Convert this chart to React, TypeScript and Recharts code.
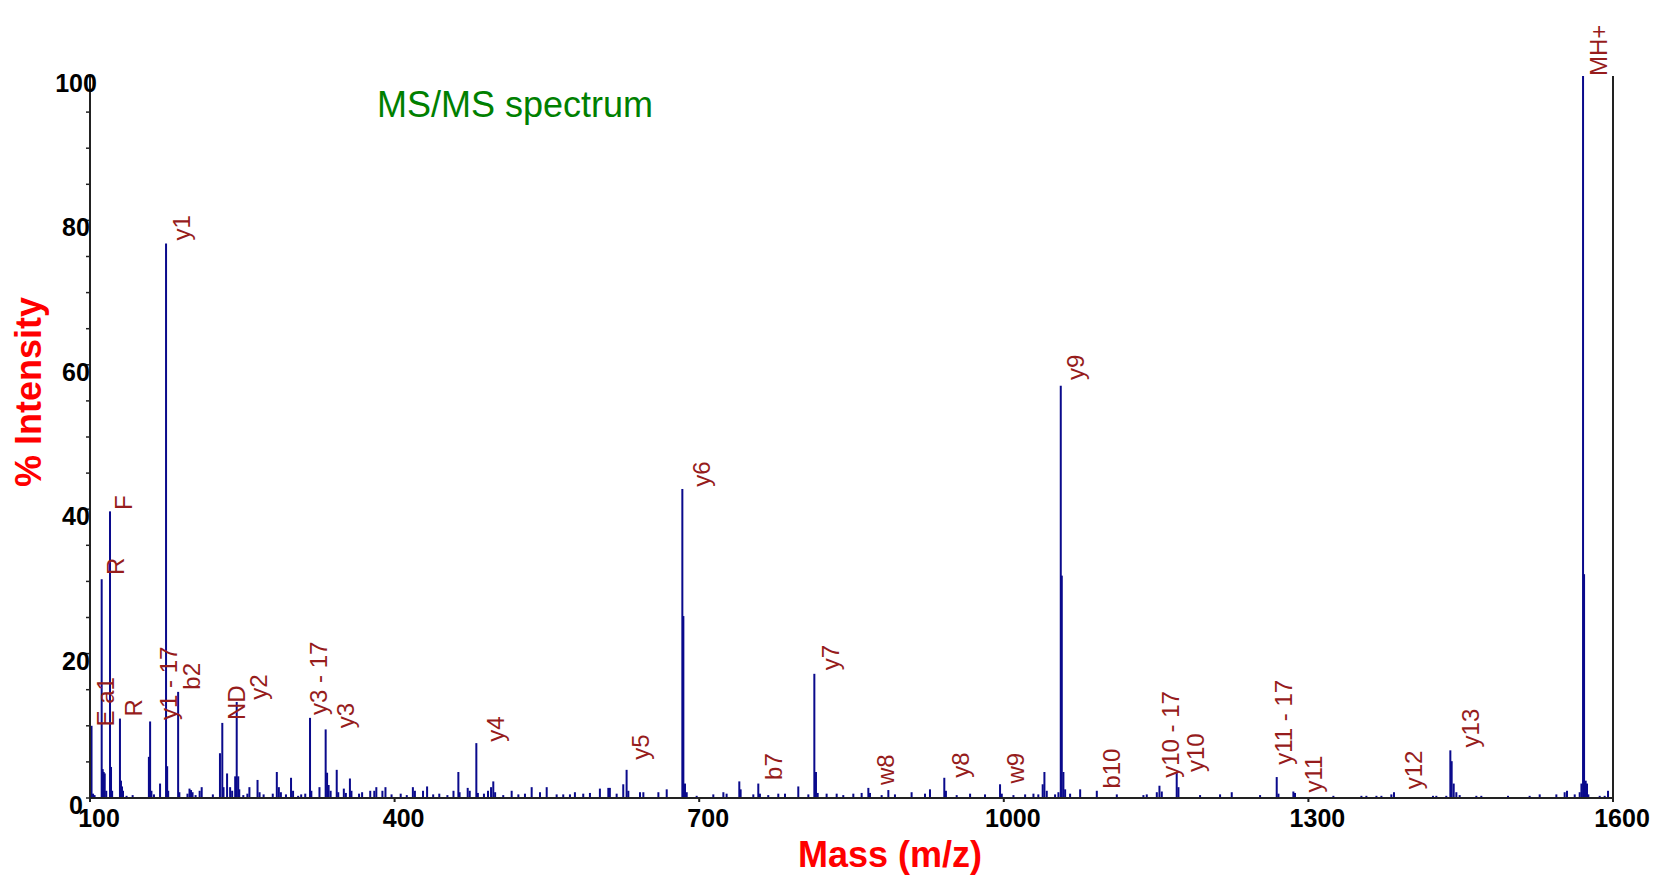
import { ComposedChart, Bar, Scatter, XAxis, YAxis, ReferenceLine } from 'recharts';

const PEAK_COLOR = '#0a0a8c';
const LABEL_COLOR = '#961c1c';
const FONT = '"Liberation Sans", Arial, sans-serif';

// peak positions (m/z) and their relative intensities (%)
const PEAK_MZ = [
  101.5, 103, 104.5, 111.5, 112.5, 113.5, 114.5, 116, 119.7, 120.7, 121.8, 129.5, 130.5, 131.5, 132.5, 136, 142,
  158, 159.2, 160.5, 163, 169, 174.9, 176, 177, 186.8, 188, 196, 198, 199.5, 201, 204, 208, 210, 221,
  228, 230.3, 231.5, 235, 238, 240, 243, 244.5, 246, 247, 251, 255, 257, 265, 267, 271, 280, 284, 286, 288,
  293, 298, 300, 305, 308, 312, 316.7, 318, 326, 332.1, 333.5, 335, 337, 343, 344.5, 350, 352, 356, 357.5,
  365, 368, 376, 380, 382, 388, 391, 397, 406, 412, 418, 420, 428, 432, 438, 444, 452, 458, 462.8, 464,
  472, 474, 480.5, 482, 488, 492, 495, 497.2, 499, 507, 515.3, 521.9, 528.4, 535, 543.2, 549.8, 559.6,
  566.1, 572.7, 577.6, 585.8, 592.4, 602.2, 610.5, 612, 618.7, 625.2, 628.5, 630.2, 641.7, 645, 659.8, 668,
  683.4, 684.4, 686, 687.7, 697.5, 713.9, 723.8, 727, 739.5, 740.8, 753.3, 758.2, 759.8, 768, 777.9, 784.5,
  797.6, 807.5, 813.4, 815, 816.7, 825.5, 835.4, 841.9, 851.8, 860, 866.6, 868.2, 879.7, 886.3, 892.8,
  909.2, 922.4, 927.3, 941.4, 943, 953.6, 966.8, 981.5, 996.3, 998, 1009.5, 1021, 1029.2, 1034, 1038.3,
  1040, 1042.3, 1050.5, 1053.8, 1056.1, 1057.1, 1058.7, 1060.4, 1065.3, 1075.2, 1091.6, 1111.3, 1137.5,
  1140.8, 1150.7, 1153.3, 1155.6, 1170.3, 1172, 1193.3, 1213, 1224.5, 1252.4, 1268.8, 1270.5, 1285.2,
  1286.8, 1324.6, 1352.2, 1357.1, 1367, 1371.9, 1381.7, 1384.3, 1422.7, 1426, 1435.8, 1439.8, 1441.1,
  1443.1, 1445.7, 1449, 1465.4, 1470.3, 1496.6, 1517.9, 1527.8, 1544.2, 1552.4, 1554.7, 1562.3, 1567.2,
  1568.9, 1570.5, 1571.5, 1573.1, 1574.4, 1575.7, 1586.9, 1591.8, 1595.1,
];
const PEAK_INT = [
  10, 0.6, 0.4, 30.3, 4.0, 3.6, 3.4, 1.0, 39.7, 4.3, 1.0, 11, 2.4, 1.6, 1.0, 0.3, 0.4,
  5.7, 10.6, 1.0, 0.5, 2.0, 76.8, 4.4, 1.0, 14.7, 0.8, 0.6, 1.3, 1.1, 0.8, 0.4, 1.0, 1.5, 0.5,
  6.2, 10.4, 1.5, 3.4, 1.5, 1.0, 3.0, 13.3, 3.0, 1.2, 0.4, 0.6, 1.5, 2.5, 0.8, 0.5, 0.6, 3.6, 1.5, 0.8,
  0.5, 2.8, 1.0, 0.3, 0.5, 0.6, 11.1, 1.0, 1.5, 9.5, 3.5, 1.8, 1.0, 3.9, 0.8, 1.3, 0.7, 2.7, 1.0,
  0.6, 0.8, 1.0, 1.0, 1.5, 1.0, 1.5, 0.5, 0.6, 0.4, 1.5, 1.0, 1.0, 1.6, 0.5, 0.6, 0.4, 1.0, 3.6, 0.8,
  1.4, 1.0, 7.6, 0.7, 0.6, 1.0, 1.5, 2.3, 0.8, 0.4, 1.0, 0.5, 0.6, 1.5, 0.8, 1.5, 0.5,
  0.5, 0.5, 0.8, 0.6, 0.7, 1.3, 1.4, 1.4, 0.6, 1.9, 3.9, 1.0, 0.8, 0.8, 0.8, 1.2,
  42.8, 25.2, 2.0, 0.8, 0.3, 0.5, 0.8, 0.6, 2.3, 1.2, 0.5, 2.0, 0.6, 0.4, 0.6, 0.6,
  1.6, 0.5, 17.2, 3.6, 0.7, 0.6, 0.6, 0.4, 0.6, 0.7, 1.4, 0.7, 0.4, 1.1, 0.5,
  0.8, 0.6, 1.2, 2.8, 1.0, 0.4, 0.6, 0.5, 1.9, 0.6, 0.4, 0.5, 0.6, 0.5, 1.9,
  3.6, 1.0, 0.5, 0.8, 57.1, 30.8, 3.6, 1.2, 0.6, 1.2, 1.0, 0.5, 0.4,
  0.5, 0.8, 1.7, 0.9, 3.5, 1.5, 0.4, 0.5, 0.8, 0.4, 2.9, 0.6, 0.9,
  0.7, 0.3, 0.3, 0.3, 0.3, 0.3, 0.5, 0.8, 0.3, 0.3, 0.3, 6.6, 5.1,
  2.0, 0.8, 0.4, 0.3, 0.3, 0.3, 0.3, 0.5, 0.5, 0.8, 1.0, 0.5, 0.8,
  2.0, 100, 31, 2.4, 2.0, 0.5, 0.3, 0.3, 1.0,
];

// fragment annotations: text, m/z where the text sits, intensity where it starts
const LABEL_TEXT = [
  'E a1', 'R', 'F', 'R', 'y1 - 17', 'y1', 'b2', 'ND', 'y2', 'y3 - 17', 'y3', 'y4', 'y5', 'y6', 'b7', 'y7',
  'w8', 'y8', 'w9', 'y9', 'b10', 'y10 - 17', 'y10', 'y11 - 17', 'y11', 'y12', 'y13', 'MH+',
];
const LABEL_MZ = [
  106.9, 116.4, 124.6, 134.5, 168.9, 181.9, 191.9, 236.2, 257.6, 316.7, 343, 490.7, 633.5, 694.2, 764.8, 820.6,
  874.8, 948.7, 1002.9, 1062, 1098, 1155.5, 1180, 1267.2, 1296.7, 1395.2, 1451.1, 1577.4,
];
const LABEL_BASE = [
  9.9, 30.9, 39.9, 11.3, 10.8, 77.2, 15.0, 10.8, 13.6, 11.5, 9.65, 7.8, 5.3, 43.1, 2.5, 17.7,
  1.8, 2.8, 2.0, 57.9, 1.3, 2.8, 3.6, 4.6, 0.75, 1.2, 7.0, 100,
];

const X_TICKS = [100, 400, 700, 1000, 1300, 1600];
const Y_TICKS = [0, 5, 10, 15, 20, 25, 30, 35, 40, 45, 50, 55, 60, 65, 70, 75, 80, 85, 90, 95, 100];
const Y_LABELS = [0, 20, 40, 60, 80, 100];

const peaks = PEAK_MZ.map((mz, i) => ({ mz, int: PEAK_INT[i] }));
const labels = LABEL_TEXT.map((text, i) => ({ text, mz: LABEL_MZ[i], base: LABEL_BASE[i] }));

const PeakLine = (props: any) => {
  const { x, y, width, height } = props;
  if (height == null || isNaN(height)) return null;
  return <rect x={x + width / 2 - 1} y={y} width={2} height={height} fill={PEAK_COLOR} />;
};

const PeakLabel = (props: any) => {
  const { cx, cy, payload } = props;
  return (
    <text
      transform={`translate(${cx},${cy}) rotate(-90)`}
      y={17}
      fontSize={24}
      fontFamily={FONT}
      fill={LABEL_COLOR}
    >
      {payload.text}
    </text>
  );
};

const XTick = ({ x, y, payload }: any) => (
  <g>
    <line x1={x} x2={x} y1={y} y2={y + 4} stroke="#222" strokeWidth={2} />
    <text x={x + 9} y={y + 29} textAnchor="middle" fontSize={25} fontWeight="bold" fontFamily={FONT} fill="#000">
      {payload.value}
    </text>
  </g>
);

const YTick = ({ x, y, payload }: any) => (
  <g>
    <line x1={x - 4} x2={x} y1={y} y2={y} stroke="#222" strokeWidth={1.5} />
    {Y_LABELS.includes(payload.value) && (
      <text x={x - 14} y={y + 16} textAnchor="middle" fontSize={25} fontWeight="bold" fontFamily={FONT} fill="#000">
        {payload.value}
      </text>
    )}
  </g>
);

export default function App() {
  return (
    <div style={{ position: 'absolute', left: 0, top: 0, width: 1653, height: 880, background: '#fff' }}>
      <ComposedChart width={1653} height={880} data={peaks} margin={{ top: 76, right: 40, bottom: 42, left: 50 }}>
        <XAxis
          type="number"
          dataKey="mz"
          domain={[100, 1600]}
          ticks={X_TICKS}
          interval={0}
          height={40}
          tickSize={0}
          tickMargin={0}
          tickLine={false}
          tick={<XTick />}
          axisLine={{ stroke: '#222', strokeWidth: 2 }}
        />
        <YAxis
          type="number"
          domain={[0, 100]}
          ticks={Y_TICKS}
          interval={0}
          width={40}
          tickSize={0}
          tickMargin={0}
          tickLine={false}
          tick={<YTick />}
          axisLine={{ stroke: '#222', strokeWidth: 2 }}
        />
        <ReferenceLine x={1600} stroke="#222" strokeWidth={2} />
        <Bar dataKey="int" shape={<PeakLine />} isAnimationActive={false} />
        <Scatter data={labels} dataKey="base" shape={<PeakLabel />} isAnimationActive={false} />
      </ComposedChart>
      <svg width={1653} height={880} style={{ position: 'absolute', left: 0, top: 0, pointerEvents: 'none' }}>
        <text x={377} y={117} fontSize={36} fontFamily={FONT} fill="#008000">MS/MS spectrum</text>
        <text x={890} y={867} textAnchor="middle" fontSize={36} fontWeight="bold" fontFamily={FONT} fill="#ff0000">
          Mass (m/z)
        </text>
        <text
          transform="translate(41,392) rotate(-90)"
          textAnchor="middle"
          fontSize={36}
          fontWeight="bold"
          fontFamily={FONT}
          fill="#ff0000"
        >
          % Intensity
        </text>
      </svg>
    </div>
  );
}
